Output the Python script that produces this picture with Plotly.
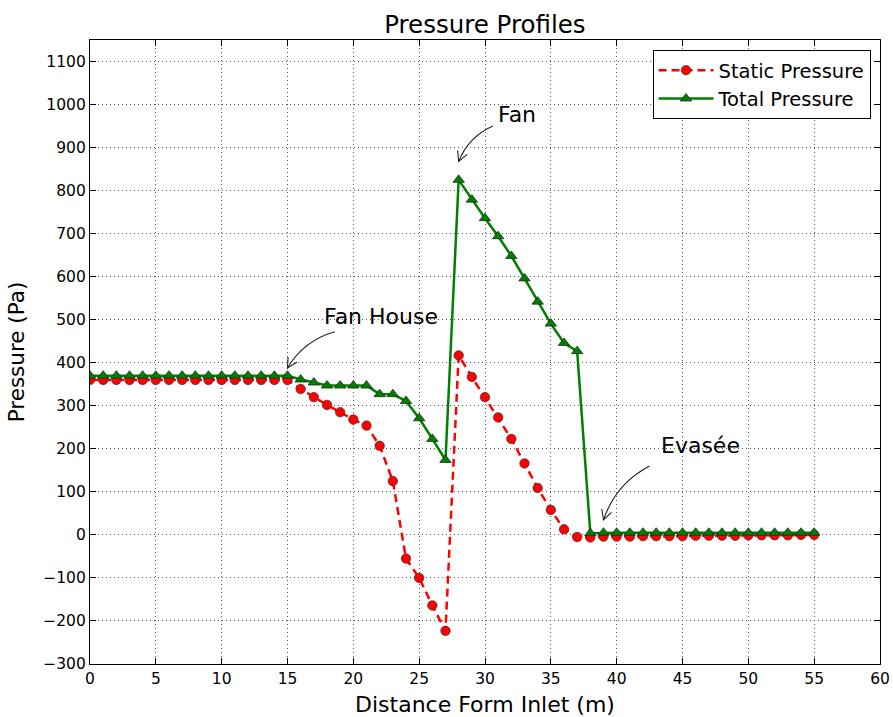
import math
import plotly.graph_objects as go

# Distance from inlet (m)
distance = list(range(0, 56))

# Static pressure along the duct (Pa)
static_pressure = [
    360, 360, 360, 360, 360, 360, 360, 360, 360, 360, 360, 360, 360, 360, 360, 360,
    339, 320, 302, 285, 268, 254, 207, 125, -55, -100, -164, -223,
    417, 367, 320, 273, 223, 166, 109, 58, 13, -5, -6,
    -4, -4, -4, -3, -3, -3, -3, -2, -2, -2, -2, -1, -1, -1, -1, 0, 0,
]

# Total pressure along the duct (Pa)
total_pressure = [
    370, 370, 370, 370, 370, 370, 370, 370, 370, 370, 370, 370, 370, 370, 370, 370,
    361, 354, 347, 347, 347, 347, 327, 327, 311, 271, 223, 174,
    825, 779, 736, 694, 648, 596, 542, 491, 446, 427, 4,
    5, 5, 5, 5, 5, 5, 5, 5, 5, 5, 5, 5, 5, 5, 5, 5, 5,
]

x_ticks = list(range(0, 61, 5))
y_ticks = list(range(-300, 1101, 100))

X_RANGE = [0, 60]
Y_RANGE = [-300, 1150]

# Figure geometry
W, H = 893, 717
M_L, M_R, M_T, M_B = 90, 13, 40, 53
PW, PH = W - M_L - M_R, H - M_T - M_B

# Callouts: label, text position (x, y), arrow tail (x, y), arrow head (x, y)
callouts = [
    ("Fan House", (17.6, 508), (18.6, 472), (15.0, 388)),
    ("Fan", (30.8, 978), (30.6, 950), (28.0, 868)),
    ("Evasée", (43.2, 207), (42.5, 160), (39.0, 35)),
]

FONT = "DejaVu Sans"


def to_px(x, y):
    px = M_L + (x - X_RANGE[0]) / (X_RANGE[1] - X_RANGE[0]) * PW
    py = M_T + (Y_RANGE[1] - y) / (Y_RANGE[1] - Y_RANGE[0]) * PH
    return px, py


def to_data(px, py):
    x = X_RANGE[0] + (px - M_L) / PW * (X_RANGE[1] - X_RANGE[0])
    y = Y_RANGE[1] - (py - M_T) / PH * (Y_RANGE[1] - Y_RANGE[0])
    return x, y


def curved_arrow(tail, head, rad=0.2, head_len=11, head_angle=28):
    """Curved connector (quadratic) with an open V head, in data coordinates."""
    tx, ty = to_px(*tail)
    hx, hy = to_px(*head)
    dx, dy = hx - tx, hy - ty
    mx, my = (tx + hx) / 2, (ty + hy) / 2
    # bend toward the upper-left of the chord
    cx, cy = mx - rad * dy, my + rad * dx
    c = to_data(cx, cy)
    curve = f"M {tail[0]},{tail[1]} Q {c[0]},{c[1]} {head[0]},{head[1]}"
    # V head aligned with the end tangent
    ang = math.atan2(hy - cy, hx - cx)
    pts = []
    for s in (1, -1):
        a = ang + math.pi + s * math.radians(head_angle)
        pts.append(to_data(hx + head_len * math.cos(a), hy + head_len * math.sin(a)))
    vhead = (f"M {pts[0][0]},{pts[0][1]} L {head[0]},{head[1]} "
             f"L {pts[1][0]},{pts[1][1]}")
    return curve, vhead


fig = go.Figure()
fig.add_trace(go.Scatter(
    x=distance, y=static_pressure, name="Static Pressure",
    mode="lines+markers",
    line=dict(color="#ff0000", width=2.5, dash="8px,5px"),
    marker=dict(symbol="circle", size=9.5, color="#ff0000",
                line=dict(color="#333333", width=0.7)),
))
fig.add_trace(go.Scatter(
    x=distance, y=total_pressure, name="Total Pressure",
    mode="lines+markers",
    line=dict(color="#008000", width=2.5),
    marker=dict(symbol="triangle-up", size=10, color="#008000",
                line=dict(color="#1a1a1a", width=0.7)),
))

for label, (tx, ty), tail, head in callouts:
    curve, vhead = curved_arrow(tail, head)
    for p in (curve, vhead):
        fig.add_shape(type="path", path=p, xref="x", yref="y",
                      line=dict(color="#222222", width=1.1))
    fig.add_annotation(
        x=tx, y=ty, xref="x", yref="y", text=label, showarrow=False,
        xanchor="left", yanchor="middle",
        font=dict(family=FONT, size=22, color="#000000"),
    )

axis_common = dict(
    showline=True, linecolor="#000000", linewidth=1.2, mirror="allticks",
    ticks="inside", ticklen=6, tickcolor="#000000",
    showgrid=True, gridcolor="#555555", griddash="1px,3px", gridwidth=1,
    zeroline=False, automargin=False,
    tickfont=dict(family=FONT, size=15.5, color="#000000"),
)

fig.update_layout(
    width=W, height=H,
    margin=dict(l=M_L, r=M_R, t=M_T, b=M_B),
    paper_bgcolor="#ffffff", plot_bgcolor="#ffffff",
    font=dict(family=FONT, color="#000000"),
    title=dict(text="Pressure Profiles", x=0.543, xanchor="center",
               y=0.966, yanchor="middle",
               font=dict(family=FONT, size=24.5, color="#000000")),
    xaxis=dict(range=X_RANGE, tickvals=x_ticks,
               title=dict(text="Distance Form Inlet (m)", standoff=9,
                          font=dict(family=FONT, size=22)),
               **axis_common),
    yaxis=dict(range=Y_RANGE, tickvals=y_ticks,
               title=dict(text="Pressure (Pa)", standoff=12,
                          font=dict(family=FONT, size=21.5)),
               **axis_common),
    legend=dict(x=0.988, y=0.984, xanchor="right", yanchor="top",
                bgcolor="#ffffff", bordercolor="#000000", borderwidth=1,
                font=dict(family=FONT, size=19.5, color="#000000"),
                itemwidth=55, tracegroupgap=0),
    showlegend=True,
)

fig.write_html("out.html")
